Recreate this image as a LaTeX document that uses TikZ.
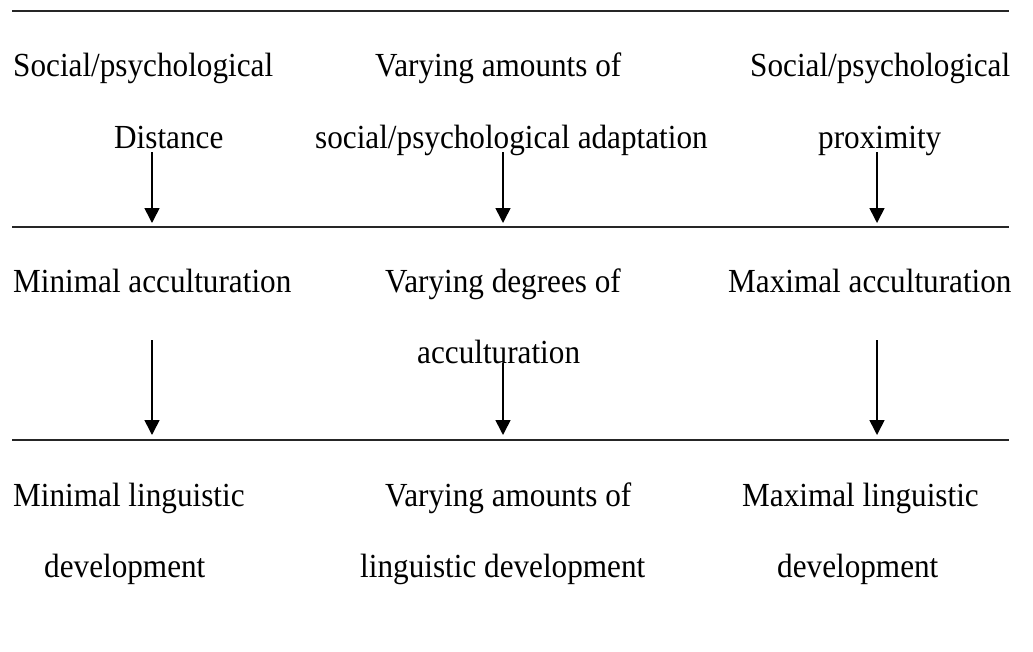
\documentclass[tikz,border=0pt]{standalone}
\usepackage{fontspec}
\setmainfont{Liberation Serif}
\usetikzlibrary{arrows.meta}
\newcommand{\tall}[1]{\scalebox{1}[1.08]{#1}}
\begin{document}
\begin{tikzpicture}[x=1pt,y=-1pt,
  lbl/.style={anchor=base west,inner sep=0pt,font=\fontsize{31.2}{37}\selectfont},
  rule/.style={line width=2pt,draw=black!85},
  flow/.style={line width=1.6pt,-{Triangle[length=15pt,width=15pt]}}]
\useasboundingbox (0,0) rectangle (1033,651);
% horizontal rules
\draw[rule] (12,11) coordinate (r1a) -- (1009,11) coordinate (r1b);
\draw[rule] (12,227) coordinate (r2a) -- (1009,227) coordinate (r2b);
\draw[rule] (12,440) coordinate (r3a) -- (1009,440) coordinate (r3b);
% row 1
\node[lbl] (a1) at (13,76) {\tall{Social/psychological}};
\node[lbl] (a2) at (114,148) {\tall{Distance}};
\node[lbl] (b1) at (375,76) {\tall{Varying amounts of}};
\node[lbl] (b2) at (315,148) {\tall{social/psychological adaptation}};
\node[lbl] (c1) at (750,76) {\tall{Social/psychological}};
\node[lbl] (c2) at (818,148) {\tall{proximity}};
% row 2
\node[lbl] (d1) at (13,292) {\tall{Minimal acculturation}};
\node[lbl] (e1) at (385,292) {\tall{Varying degrees of}};
\node[lbl] (e2) at (417,363) {\tall{acculturation}};
\node[lbl] (f1) at (728,292) {\tall{Maximal acculturation}};
% row 3
\node[lbl] (g1) at (13,506) {\tall{Minimal linguistic}};
\node[lbl] (g2) at (44,577) {\tall{development}};
\node[lbl] (h1) at (385,506) {\tall{Varying amounts of}};
\node[lbl] (h2) at (360,577) {\tall{linguistic development}};
\node[lbl] (i1) at (742,506) {\tall{Maximal linguistic}};
\node[lbl] (i2) at (777,577) {\tall{development}};
% arrow end points
\coordinate (p1s) at (152,152); \coordinate (p1e) at (152,223);
\coordinate (p2s) at (503,152); \coordinate (p2e) at (503,223);
\coordinate (p3s) at (877,152); \coordinate (p3e) at (877,223);
\coordinate (q1s) at (152,340); \coordinate (q1e) at (152,435);
\coordinate (q2s) at (503,363); \coordinate (q2e) at (503,435);
\coordinate (q3s) at (877,340); \coordinate (q3e) at (877,435);
\draw[flow] (p1s) -- (p1e);
\draw[flow] (p2s) -- (p2e);
\draw[flow] (p3s) -- (p3e);
\draw[flow] (q1s) -- (q1e);
\draw[flow] (q2s) -- (q2e);
\draw[flow] (q3s) -- (q3e);
\end{tikzpicture}
\end{document}
